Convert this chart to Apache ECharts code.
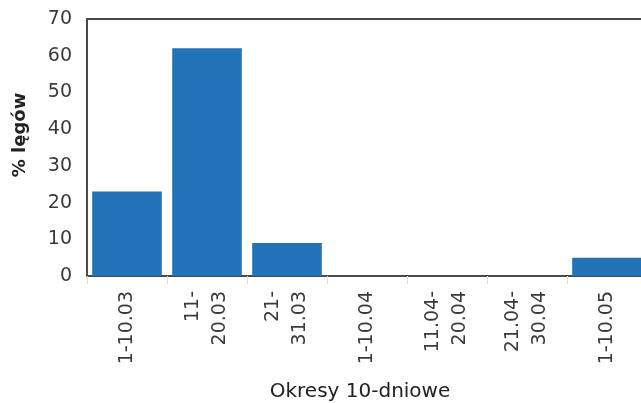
<!DOCTYPE html>
<html>
<head>
<meta charset="utf-8">
<script src="https://cdn.jsdelivr.net/npm/echarts@6/dist/echarts.min.js"></script>
<style>
  html, body { margin: 0; padding: 0; background: #fff; }
  #main { width: 641px; height: 403px; }
</style>
</head>
<body>
<div id="main"></div>
<script>
// 10-day periods (the original picture is cut at the right edge)
const categories = ['1-10.03', '11-\n20.03', '21-\n31.03', '1-10.04', '11.04-\n20.04', '21.04-\n30.04', '1-10.05'];
const shareOfBroods = [23, 62, 9, 0, 0, 0, 5];
const yTicks = { min: 0, max: 70, step: 10 };

const chart = echarts.init(document.getElementById('main'));

chart.setOption({
  animation: false,
  textStyle: { fontFamily: 'DejaVu Sans' },
  grid: {
    left: 87,
    top: 19,
    width: 560,   // runs past the canvas like in the reference
    height: 257,
    outerBoundsMode: 'none',
    containLabel: false,
    show: true,
    borderColor: '#4a4a4a',
    borderWidth: 2
  },
  title: {
    text: 'Okresy 10-dniowe',
    left: 355,
    top: 377,
    textAlign: 'center',
    textStyle: { fontSize: 20, fontWeight: 'normal', color: '#222', fontFamily: 'DejaVu Sans' }
  },
  graphic: [{
    type: 'text',
    x: 20,
    y: 135,
    rotation: Math.PI / 2,
    style: {
      text: '% lęgów',
      font: 'bold 18px "DejaVu Sans"',
      fill: '#222',
      textAlign: 'center',
      textVerticalAlign: 'middle'
    }
  }],
  xAxis: {
    type: 'category',
    data: categories,
    axisLine: { show: false },
    axisTick: { show: true, length: 8, lineStyle: { color: '#ddd' } },
    axisLabel: {
      interval: 0,
      rotate: 90,
      margin: 15,
      fontSize: 19,
      lineHeight: 27,
      color: '#3a3a3a'
    }
  },
  yAxis: {
    type: 'value',
    min: yTicks.min,
    max: yTicks.max,
    interval: yTicks.step,
    splitLine: { show: false },
    axisLine: { show: false },
    axisTick: { show: false },
    axisLabel: { fontSize: 19, color: '#3a3a3a', margin: 15 }
  },
  series: [{
    type: 'bar',
    data: shareOfBroods,
    barCategoryGap: '13%',
    itemStyle: { color: '#2273b5' }
  }]
});
</script>
</body>
</html>
